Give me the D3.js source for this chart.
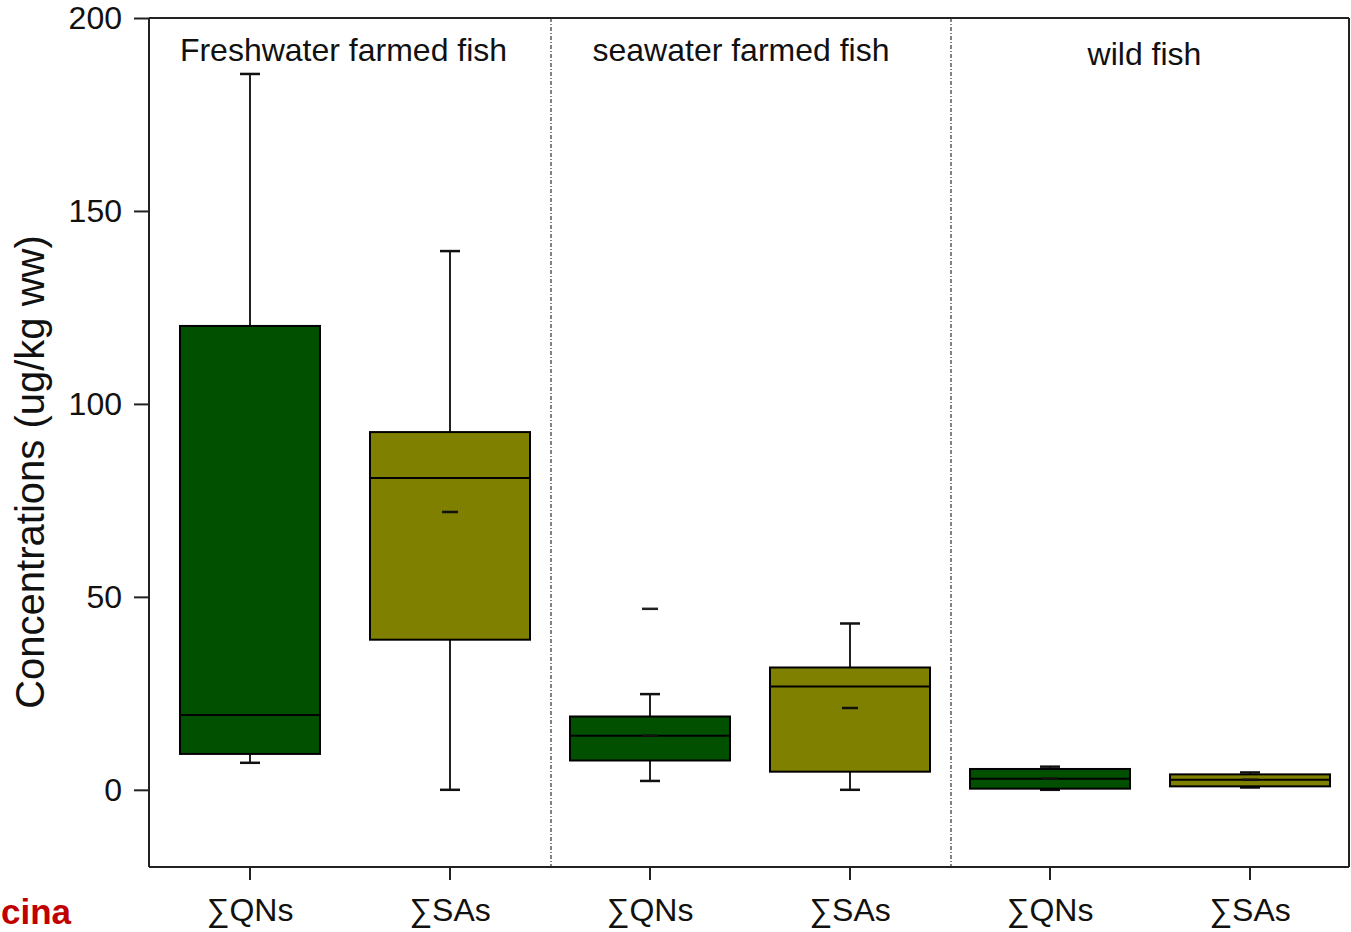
<!DOCTYPE html>
<html>
<head>
<meta charset="utf-8">
<script src="https://cdn.jsdelivr.net/npm/d3@7"></script>
<style>
  html, body { margin: 0; padding: 0; background: #fff; }
  svg { display: block; font-family: "Liberation Sans", Arial, Helvetica, sans-serif; }
</style>
</head>
<body>
<svg id="chart" width="1351" height="932"></svg>
<script>
// ---- Data ----
const categories = ["∑QNs", "∑SAs", "∑QNs", "∑SAs", "∑QNs", "∑SAs"];
const groups = ["Freshwater farmed fish", "seawater farmed fish", "wild fish"];
const series = ["QNs", "SAs", "QNs", "SAs", "QNs", "SAs"];
const whiskerLow  = [7.0, 0.0, 2.3, 0.0, 0.0, 0.6];
const q1          = [9.3, 38.9, 7.6, 4.7, 0.3, 0.9];
const median      = [19.4, 80.8, 14.0, 26.8, 2.9, 2.6];
const q3          = [120.2, 92.7, 19.0, 31.7, 5.4, 4.0];
const whiskerHigh = [185.5, 139.6, 24.8, 43.1, 6.0, 4.5];
const means       = [null, 72.0, 14.0, 21.2, 2.9, 2.6];
const maxMarks    = [null, null, 46.9, null, null, null];
const yTicks = [0, 50, 100, 150, 200];

// ---- Layout / style ----
const pLeft = 149, pRight = 1349, pTop = 18, pBottom = 867;
const colors = { QNs: "#005000", SAs: "#808000" };
const boxWidths = [140, 160, 160, 160, 160, 160];

const svg = d3.select("#chart");

const x = d3.scaleBand().domain(d3.range(categories.length)).range([pLeft + 1, pRight + 1]).padding(0);
const xc = i => x(i) + x.bandwidth() / 2;
const y = d3.scaleLinear().domain([-20, 200]).range([pBottom, pTop]);

const gx = d3.scaleBand().domain(groups).range([pLeft + 1, pRight + 1]);

// group separators
[1, 2].forEach(k => {
  const sx = x(k * 2) + 1;
  svg.append("line").attr("x1", sx).attr("x2", sx).attr("y1", pTop).attr("y2", pBottom)
    .attr("stroke", "#333").attr("stroke-width", 1.2).attr("stroke-dasharray", "4,2,1,2");
});

// group labels
const labelY = [61, 61, 65];
const labelShift = [-6.5, -9, -5.5];
svg.selectAll("text.group").data(groups).join("text")
  .attr("class", "group")
  .attr("x", (d, i) => gx(d) + gx.bandwidth() / 2 + labelShift[i])
  .attr("y", (d, i) => labelY[i])
  .attr("text-anchor", "middle")
  .attr("font-size", 32)
  .attr("fill", "#111")
  .text(d => d);

// boxes
const g = svg.append("g");
categories.forEach((c, i) => {
  const cx = xc(i);
  const bw = boxWidths[i];
  const lw = g.append("g");
  lw.append("line").attr("x1", cx).attr("x2", cx).attr("y1", y(q3[i])).attr("y2", y(whiskerHigh[i]))
    .attr("stroke", "#222").attr("stroke-width", 2);
  lw.append("line").attr("x1", cx).attr("x2", cx).attr("y1", y(q1[i])).attr("y2", y(whiskerLow[i]))
    .attr("stroke", "#222").attr("stroke-width", 2);
  [whiskerHigh[i], whiskerLow[i]].forEach(v => {
    lw.append("line").attr("x1", cx - 10).attr("x2", cx + 10).attr("y1", y(v)).attr("y2", y(v))
      .attr("stroke", "#111").attr("stroke-width", 2.5);
  });
  lw.append("rect").attr("x", cx - bw / 2).attr("y", y(q3[i]))
    .attr("width", bw).attr("height", y(q1[i]) - y(q3[i]))
    .attr("fill", colors[series[i]]).attr("stroke", "#000").attr("stroke-width", 2);
  lw.append("line").attr("x1", cx - bw / 2).attr("x2", cx + bw / 2)
    .attr("y1", y(median[i])).attr("y2", y(median[i]))
    .attr("stroke", "#000").attr("stroke-width", 2);
  if (means[i] !== null) {
    lw.append("line").attr("x1", cx - 8).attr("x2", cx + 8).attr("y1", y(means[i])).attr("y2", y(means[i]))
      .attr("stroke", "#111").attr("stroke-width", 2.5);
  }
  if (maxMarks[i] !== null) {
    lw.append("line").attr("x1", cx - 8).attr("x2", cx + 8).attr("y1", y(maxMarks[i])).attr("y2", y(maxMarks[i]))
      .attr("stroke", "#222").attr("stroke-width", 2.5);
  }
});

// frame (top & right)
svg.append("line").attr("x1", pLeft).attr("x2", pRight).attr("y1", pTop).attr("y2", pTop)
  .attr("stroke", "#222").attr("stroke-width", 2);
svg.append("line").attr("x1", pRight).attr("x2", pRight).attr("y1", pTop).attr("y2", pBottom)
  .attr("stroke", "#222").attr("stroke-width", 2);

// y axis
const yAxis = d3.axisLeft(y).tickValues(yTicks).tickSize(15).tickPadding(12).tickFormat(d3.format("d"));
const ya = svg.append("g").attr("transform", `translate(${pLeft},0)`).call(yAxis);
ya.select(".domain").attr("stroke", "#222").attr("stroke-width", 2)
  .attr("d", `M0,${pTop}V${pBottom}`);
ya.selectAll(".tick line").attr("stroke", "#222").attr("stroke-width", 2);
ya.selectAll(".tick text").attr("font-size", 32).attr("fill", "#111")
  .attr("font-family", "Liberation Sans, Arial, sans-serif");

// x axis
const xAxis = d3.axisBottom(x).tickSize(13).tickPadding(18).tickFormat(i => categories[i]);
const xa = svg.append("g").attr("transform", `translate(0,${pBottom})`).call(xAxis);
xa.select(".domain").attr("stroke", "#222").attr("stroke-width", 2)
  .attr("d", `M${pLeft},0H${pRight}`);
xa.selectAll(".tick line").attr("stroke", "#222").attr("stroke-width", 2);
xa.selectAll(".tick text").attr("font-size", 32).attr("fill", "#111")
  .attr("font-family", "Liberation Sans, Arial, sans-serif");

// y axis title
svg.append("text")
  .attr("transform", `translate(44,472) rotate(-90)`)
  .attr("text-anchor", "middle")
  .attr("font-size", 40)
  .attr("fill", "#111")
  .text("Concentrations (ug/kg ww)");

// watermark fragment
svg.append("text")
  .attr("x", 1).attr("y", 924)
  .attr("font-size", 35).attr("font-weight", "bold")
  .attr("fill", "#c00000")
  .text("cina");
</script>
</body>
</html>
